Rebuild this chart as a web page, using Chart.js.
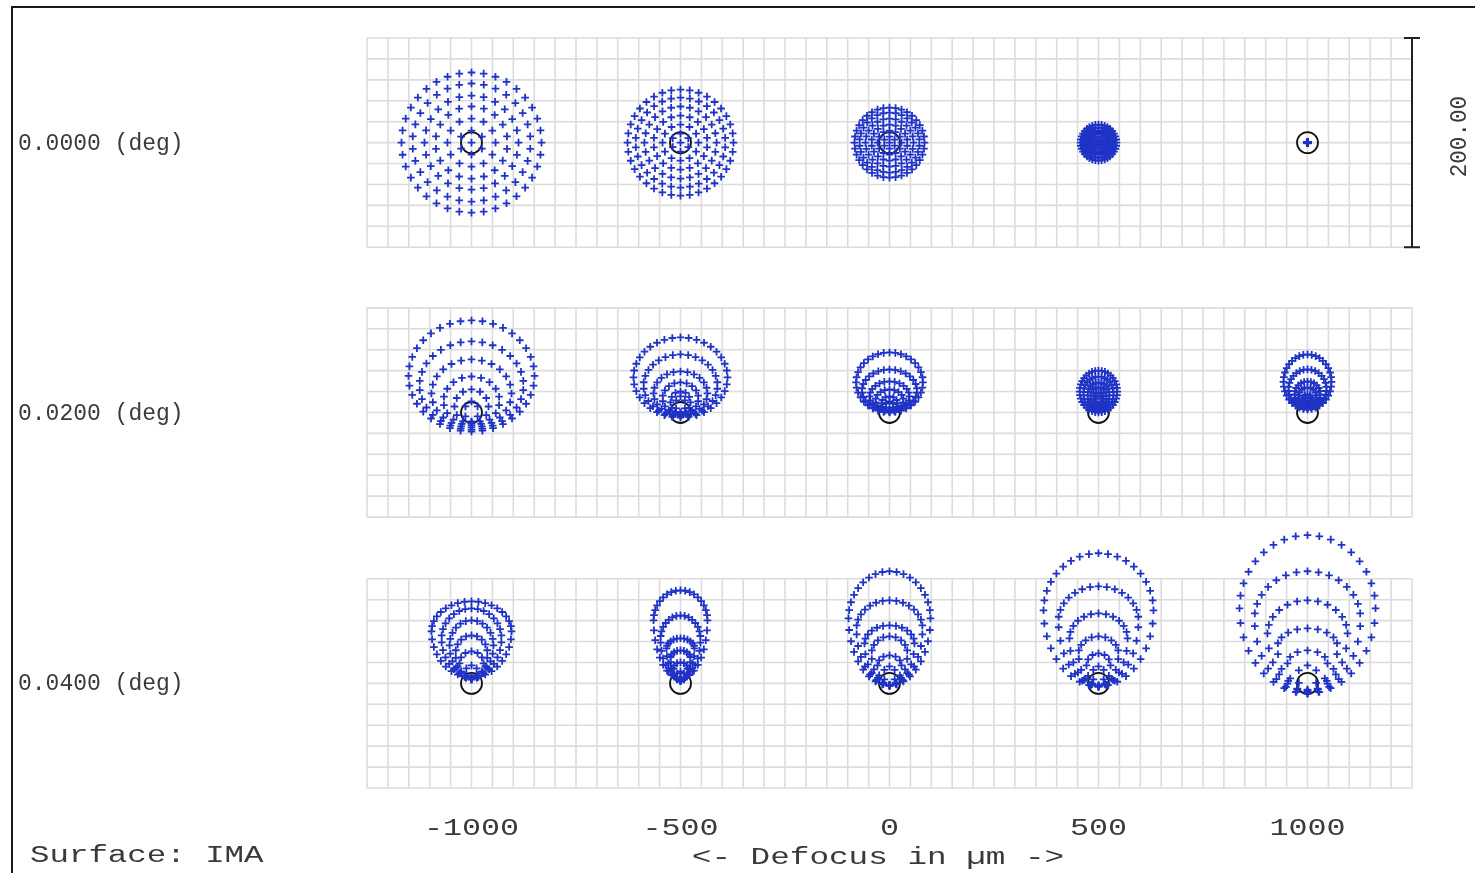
<!DOCTYPE html>
<html>
<head>
<meta charset="utf-8">
<title>Through Focus Spot Diagram</title>
<script src="https://cdn.jsdelivr.net/npm/chart.js@4.4.1/dist/chart.umd.min.js"></script>
<style>
  html, body { margin: 0; padding: 0; background: #ffffff; }
  #spotChart { display: block; }
</style>
</head>
<body>
<canvas id="spotChart" width="1475" height="873"></canvas>
<script>
// Through focus spot diagram, values in µm

const defocusLabels = ['-1000', '-500', '0', '500', '1000'];
const fieldLabels = ['0.0000 (deg)', '0.0200 (deg)', '0.0400 (deg)'];
const scaleBarLabel = '200.00';
const surfaceLabel = 'Surface: IMA';
const axisTitle = '<- Defocus in µm ->';

// rays per pupil ring (hexapolar: centre ray, then 6, 12, 18 ...)
const ringCounts = [1, 6, 12, 18, 24, 30, 36];

// each spot = list of rings, ring = [centre dy, half width, half height up, half height down]
// ring given as [dy, r] is round
const spots00deg = [
    [[0, 0], [0, 11.5], [0, 23], [0, 34.5], [0, 45], [0, 56.5], [0, 67]],
    [[0, 0], [0, 8.6], [0, 17.2], [0, 25.8], [0, 34.5], [0, 43], [0, 50.7]],
    [[0, 0], [0, 5.7], [0, 11.5], [0, 17.2], [0, 23], [0, 28.7], [0, 33.5]],
    [[0, 0], [0, 2.9], [0, 5.7], [0, 8.6], [0, 11.5], [0, 14.4], [0, 17.2]],
    [[0, 0], [0, 0.1], [0, 0.2], [0, 0.3], [0, 0.4], [0, 0.5], [0, 0.6]]
];
const spots02deg = [
    [[-9, 0], [1, 6.7, 9.6, 9.6], [5.7, 16.3, 16.3, 16.3], [11, 26.8, 23.4, 23.4], [18.2, 38.3, 32.5, 32.5], [25.8, 49.8, 42.1, 42.1], [34.9, 60.3, 53.1, 53.1]],
    [[0, 0], [7.7, 4.8, 7.7, 7.7], [9.6, 9.6, 10.5, 10.5], [13.4, 17.2, 15.3, 15.3], [18.2, 25.8, 21, 21], [25.8, 35.4, 29.7, 29.7], [33.5, 45, 38.3, 38.3]],
    [[3, 0], [6.7, 3.8, 3.8, 3.8], [8.6, 7.7, 6.7, 6.7], [11.5, 13.4, 10.5, 10.5], [15.3, 19.1, 14.4, 14.4], [21, 26.3, 20.1, 20.1], [28.7, 32, 28.7, 28.7]],
    [[8, 0], [11.5, 2.9, 3.8, 3.8], [12.4, 4.8, 6.7, 6.7], [14.4, 7.7, 9.6, 9.6], [16.3, 10.5, 12.4, 12.4], [18, 14.4, 16.3, 16.3], [20, 18, 20, 20]],
    [[6, 0], [9.6, 2.9, 3.8, 3.8], [11.5, 4.8, 5.7, 5.7], [14.4, 8.6, 9.6, 9.6], [17.2, 12.4, 12.4, 12.4], [22.5, 18.2, 18.7, 18.7], [29.2, 23, 26.3, 26.3]]
];
const spots04deg = [
    [[4, 0], [11.5, 5.7, 5.7, 7.7], [19.1, 11.5, 11.5, 15.3], [28.7, 15.3, 17.2, 24.9], [36.4, 21, 23.9, 30.6], [43, 28.7, 28.7, 36.4], [49.8, 38.3, 28.7, 44]],
    [[2, 0], [7.7, 3.8, 3.8, 5.7], [14.4, 6.7, 5.7, 12.4], [23.9, 9.6, 7.7, 21], [33.5, 13.4, 9.6, 28.7], [43, 19.1, 22, 38.3], [60.3, 25.8, 28.7, 55.5]],
    [[-2, 0], [9.6, 5.7, 6.7, 11.5], [17.2, 11.5, 9.6, 19.1], [28.7, 17.2, 16.3, 30.6], [38.3, 23.9, 17.2, 40.2], [52.6, 31.6, 26.8, 54.5], [62.2, 39.2, 45, 64.1]],
    [[-2, 0], [9.6, 5.7, 6.7, 11.5], [17.2, 11.5, 11.5, 20.1], [28.7, 19.1, 16.3, 31.6], [43, 27.8, 23.9, 45.9], [60.3, 38.3, 32.5, 63.2], [69.9, 52.6, 54.5, 72.7]],
    [[-6, 0], [7.7, 9.6, 9.6, 14.4], [19.1, 19.1, 12.4, 28.7], [35.4, 28.7, 17.2, 43], [47.8, 38.3, 31.6, 55.5], [62.2, 50.7, 45, 71.8], [71.8, 65.1, 69.9, 81.3]]
];
const fieldSpots = [spots00deg, spots02deg, spots04deg];

// layout: each box is 200 µm, grid every 20 µm
const boxSize = 200;
const gridStep = 20;
const rowCenters = [0, -258, -517];
const colCenters = defocusLabels.map((d, i) => boxSize / 2 + boxSize * i);

const spotColor = '#1f33c6';
const textColor = '#3a3a3a';
const monoFont = '"Liberation Mono", "Courier New", monospace';

function buildSpotPoints() {
    const pts = [];
    fieldSpots.forEach((spots, f) => {
        spots.forEach((rings, c) => {
            const cx = colCenters[c];
            const cy = rowCenters[f];
            rings.forEach((ring, i) => {
                const dy = ring[0];
                const rx = ring[1];
                const up = ring.length > 2 ? ring[2] : rx;
                const down = ring.length > 3 ? ring[3] : up;
                const n = ringCounts[i];
                for (let k = 0; k < n; k++) {
                    const a = 2 * Math.PI * k / n;
                    const s = Math.sin(a), co = Math.cos(a);
                    pts.push({
                        x: cx + rx * s,
                        y: cy + dy + (co >= 0 ? up : down) * co
                    });
                }
            });
        });
    });
    return pts;
}

function buildAiryPoints() {
    const pts = [];
    rowCenters.forEach(y => colCenters.forEach(x => pts.push({ x: x, y: y })));
    return pts;
}

function drawStretched(ctx, text, x, y, sx, align) {
    ctx.save();
    ctx.translate(x, y);
    ctx.scale(sx, 1);
    ctx.textAlign = align;
    ctx.fillText(text, 0, 0);
    ctx.restore();
}

const decorPlugin = {
    id: 'decor',
    beforeDatasetsDraw(chart) {
        const ctx = chart.ctx;
        const xs = chart.scales.x, ys = chart.scales.y;
        const x0 = xs.getPixelForValue(0);
        const x1 = xs.getPixelForValue(boxSize * defocusLabels.length);
        ctx.save();
        ctx.strokeStyle = '#dcdcdc';
        ctx.lineWidth = 1.6;
        rowCenters.forEach(rc => {
            const top = ys.getPixelForValue(rc + boxSize / 2);
            const bot = ys.getPixelForValue(rc - boxSize / 2);
            ctx.beginPath();
            for (let v = 0; v <= boxSize * defocusLabels.length; v += gridStep) {
                const px = xs.getPixelForValue(v);
                ctx.moveTo(px, top);
                ctx.lineTo(px, bot);
            }
            for (let v = -boxSize / 2; v <= boxSize / 2; v += gridStep) {
                const py = ys.getPixelForValue(rc + v);
                ctx.moveTo(x0, py);
                ctx.lineTo(x1, py);
            }
            ctx.stroke();
        });
        ctx.restore();
    },
    afterDraw(chart) {
        const ctx = chart.ctx;
        const xs = chart.scales.x, ys = chart.scales.y;
        ctx.save();
        ctx.fillStyle = textColor;
        ctx.font = '23px ' + monoFont;
        ctx.textBaseline = 'middle';

        // field labels
        fieldLabels.forEach((t, i) => {
            drawStretched(ctx, t, 18, ys.getPixelForValue(rowCenters[i]) + 1, 1.0, 'left');
        });
        // defocus tick labels
        defocusLabels.forEach((t, i) => {
            drawStretched(ctx, t, xs.getPixelForValue(colCenters[i]), 829, 1.38, 'center');
        });
        drawStretched(ctx, axisTitle, 878, 858, 1.42, 'center');
        drawStretched(ctx, surfaceLabel, 30, 856, 1.41, 'left');

        // scale bar on the right of the first row
        const bx = xs.getPixelForValue(boxSize * defocusLabels.length);
        const bTop = ys.getPixelForValue(rowCenters[0] + boxSize / 2);
        const bBot = ys.getPixelForValue(rowCenters[0] - boxSize / 2);
        ctx.strokeStyle = '#222222';
        ctx.lineWidth = 2;
        ctx.beginPath();
        ctx.moveTo(bx, bTop); ctx.lineTo(bx, bBot);
        ctx.moveTo(bx - 8, bTop); ctx.lineTo(bx + 8, bTop);
        ctx.moveTo(bx - 8, bBot); ctx.lineTo(bx + 8, bBot);
        ctx.stroke();
        ctx.save();
        ctx.translate(1460, (bTop + bBot) / 2 - 6);
        ctx.rotate(-Math.PI / 2);
        ctx.scale(0.98, 1);
        ctx.textAlign = 'center';
        ctx.fillText(scaleBarLabel, 0, 0);
        ctx.restore();

        // outer frame
        ctx.strokeStyle = '#1a1a1a';
        ctx.lineWidth = 2;
        ctx.beginPath();
        ctx.moveTo(12, 880);
        ctx.lineTo(12, 7);
        ctx.lineTo(1475, 7);
        ctx.stroke();
        ctx.restore();
    }
};

new Chart(document.getElementById('spotChart'), {
    type: 'scatter',
    data: {
        datasets: [
            {
                label: 'Spots',
                data: buildSpotPoints(),
                pointStyle: 'cross',
                pointRadius: 3.8,
                pointBorderWidth: 1.8,
                borderColor: spotColor,
                backgroundColor: spotColor,
                clip: false
            },
            {
                label: 'Airy',
                data: buildAiryPoints(),
                pointStyle: 'circle',
                pointRadius: 10.5,
                pointBorderWidth: 1.8,
                borderColor: '#111111',
                backgroundColor: 'rgba(0,0,0,0)',
                clip: false
            }
        ]
    },
    options: {
        responsive: false,
        animation: false,
        events: [],
        layout: { padding: { left: 367, right: 63, top: 38, bottom: 85 } },
        plugins: { legend: { display: false }, tooltip: { enabled: false } },
        scales: {
            x: { type: 'linear', display: false, min: 0, max: boxSize * defocusLabels.length },
            y: { type: 'linear', display: false, min: -617, max: 100 }
        }
    },
    plugins: [decorPlugin]
});
</script>
</body>
</html>
